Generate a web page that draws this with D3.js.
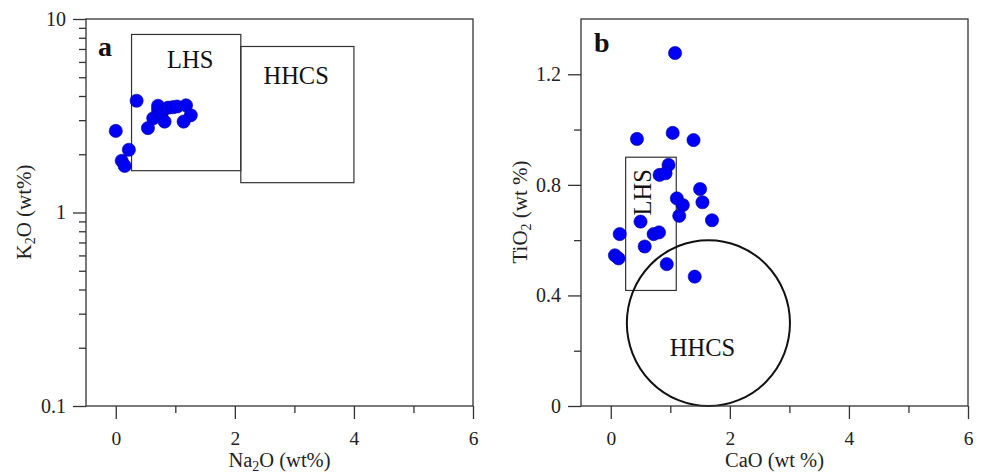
<!DOCTYPE html>
<html>
<head>
<meta charset="utf-8">
<script src="https://cdn.jsdelivr.net/npm/d3@7"></script>
<style>
  html, body { margin: 0; padding: 0; background: #fff; }
  svg { display: block; font-family: "Liberation Serif", "Times New Roman", serif; }
</style>
</head>
<body>
<svg id="chart" width="981" height="474"></svg>
<script>
// Sample compositions (wt%)
const na2O = [0.35, 0.00, 0.22, 0.10, 0.15, 0.54, 0.63, 0.71, 0.71, 0.77, 0.82, 0.88, 0.96, 1.03, 1.18, 1.26, 1.14];
const k2O  = [3.78, 2.64, 2.11, 1.85, 1.74, 2.73, 3.07, 3.40, 3.56, 3.25, 2.95, 3.48, 3.50, 3.53, 3.58, 3.18, 2.95];

const caO  = [1.08, 0.44, 1.04, 1.39, 0.97, 0.82, 0.92, 1.50, 1.11, 1.21, 1.54, 1.15, 1.70, 0.50, 0.15, 0.72, 0.81, 0.57, 0.07, 0.13, 0.94, 1.41];
const tiO2 = [1.277, 0.966, 0.988, 0.962, 0.872, 0.836, 0.842, 0.785, 0.751, 0.727, 0.737, 0.688, 0.672, 0.667, 0.622, 0.622, 0.628, 0.577, 0.545, 0.534, 0.513, 0.468];

// Reference fields [xmin, xmax, ymin, ymax] in data units
const lhsNaK  = [0.265, 2.1, 1.645, 8.32];
const hhcsNaK = [2.1, 4.0, 1.426, 7.21];
const lhsCaTi = [0.25, 1.1, 0.418, 0.90];
// HHCS field in CaO–TiO2 space: centre and half-widths
const hhcsCaTi = { cx: 1.64, cy: 0.30, rx: 1.37, ry: 0.30 };

// Axis ticks
const xMajor = [0, 2, 4, 6];
const xMinor = [1, 3, 5];
const kMajor = [0.1, 1, 10];
const kMinor = [0.2,0.3,0.4,0.5,0.6,0.7,0.8,0.9,2,3,4,5,6,7,8,9];
const tMajor = [0, 0.4, 0.8, 1.2];
const tMinor = [0.2, 0.6, 1.0];

const svg = d3.select("#chart");
const axisColor = "#333";
const plotTop = 19, plotBottom = 406;

function frame(g, x) {
  const [x0, x1] = x.range();
  g.append("rect")
    .attr("x", x0).attr("y", plotTop)
    .attr("width", x1 - x0).attr("height", plotBottom - plotTop)
    .attr("fill", "none").attr("stroke", axisColor).attr("stroke-width", 1.3);
}

function addLabel(t, parts) {
  parts.forEach(p => {
    const s = t.append("tspan").text(p.t);
    if (p.sub) s.attr("baseline-shift", "-4").attr("font-size", 14);
  });
}

function xAxis(g, x, labelParts) {
  const ax = g.append("g").attr("transform", `translate(0,${plotBottom})`);
  ax.call(d3.axisBottom(x).tickValues(xMajor).tickSize(13).tickPadding(12).tickFormat(d3.format("d")));
  ax.append("g").call(d3.axisBottom(x).tickValues(xMinor).tickSize(7).tickFormat(""));
  ax.selectAll(".domain").remove();
  ax.selectAll("line").attr("stroke", axisColor).attr("stroke-width", 1.3);
  ax.selectAll("text").attr("font-size", 19.5).attr("fill", "#222")
    .attr("font-family", "Liberation Serif");
  const [x0, x1] = x.range();
  const t = g.append("text")
    .attr("x", (x0 + x1) / 2).attr("y", 467)
    .attr("text-anchor", "middle").attr("font-size", 20.5).attr("fill", "#222");
  addLabel(t, labelParts);
}

function yLabel(g, xPos, labelParts) {
  const t = g.append("text")
    .attr("transform", `translate(${xPos},212) rotate(-90)`)
    .attr("text-anchor", "middle").attr("font-size", 21).attr("fill", "#222");
  addLabel(t, labelParts);
}

function dots(g, x, y, xs, ys) {
  g.append("g").selectAll("circle")
    .data(xs.map((v, i) => [v, ys[i]]))
    .join("circle")
    .attr("cx", d => x(d[0])).attr("cy", d => y(d[1]))
    .attr("r", 6.6)
    .attr("fill", "#0000f4")
    .attr("stroke", "#00009a").attr("stroke-width", 0.6);
}

// ---------- Panel a: Na2O vs K2O (log) ----------
{
  const x = d3.scaleLinear().domain([-0.5, 6]).range([86, 473]);
  const y = d3.scaleLog().domain([0.1, 10]).range([plotBottom, plotTop]);
  const g = svg.append("g");

  [lhsNaK, hhcsNaK].forEach(b => {
    g.append("rect")
      .attr("x", x(b[0])).attr("y", y(b[3]))
      .attr("width", x(b[1]) - x(b[0])).attr("height", y(b[2]) - y(b[3]))
      .attr("fill", "none").attr("stroke", axisColor).attr("stroke-width", 1.2);
  });
  g.append("text").attr("x", x(1.25)).attr("y", y(5.6)).attr("text-anchor", "middle")
    .attr("font-size", 24.5).attr("fill", "#111").text("LHS");
  g.append("text").attr("x", x(3.03)).attr("y", y(4.6)).attr("text-anchor", "middle")
    .attr("font-size", 24.5).attr("fill", "#111").text("HHCS");

  dots(g, x, y, na2O, k2O);
  frame(g, x);

  const ay = g.append("g").attr("transform", "translate(86,0)");
  ay.call(d3.axisLeft(y).tickValues(kMajor).tickSize(13).tickPadding(7).tickFormat(d => d < 1 ? "0.1" : String(d)));
  ay.append("g").call(d3.axisLeft(y).tickValues(kMinor).tickSize(7).tickFormat(""));
  ay.selectAll(".domain").remove();
  ay.selectAll("line").attr("stroke", axisColor).attr("stroke-width", 1.3);
  ay.selectAll("text").attr("font-size", 20).attr("fill", "#222").attr("font-family", "Liberation Serif");

  xAxis(g, x, [{t: "Na"}, {t: "2", sub: true}, {t: "O (wt%)"}]);
  yLabel(g, 31, [{t: "K"}, {t: "2", sub: true}, {t: "O (wt%)"}]);

  g.append("text").attr("x", 98).attr("y", 56).attr("font-size", 28)
    .attr("font-weight", "bold").attr("fill", "#111").text("a");
}

// ---------- Panel b: CaO vs TiO2 ----------
{
  const x = d3.scaleLinear().domain([-0.5, 6]).range([581, 968]);
  const y = d3.scaleLinear().domain([0, 1.4]).range([plotBottom, plotTop]);
  const g = svg.append("g");

  g.append("rect")
    .attr("x", x(lhsCaTi[0])).attr("y", y(lhsCaTi[3]))
    .attr("width", x(lhsCaTi[1]) - x(lhsCaTi[0])).attr("height", y(lhsCaTi[2]) - y(lhsCaTi[3]))
    .attr("fill", "none").attr("stroke", axisColor).attr("stroke-width", 1.2);

  const e = hhcsCaTi;
  g.append("ellipse")
    .attr("cx", x(e.cx)).attr("cy", y(e.cy))
    .attr("rx", x(e.cx + e.rx) - x(e.cx)).attr("ry", y(e.cy - e.ry) - y(e.cy))
    .attr("fill", "none").attr("stroke", "#111").attr("stroke-width", 2);

  g.append("text")
    .attr("transform", `translate(${x(0.68)},${y(0.773)}) rotate(-90)`)
    .attr("text-anchor", "middle").attr("font-size", 24.5).attr("fill", "#111").text("LHS");
  g.append("text").attr("x", x(1.54)).attr("y", y(0.18)).attr("text-anchor", "middle")
    .attr("font-size", 24.5).attr("fill", "#111").text("HHCS");

  dots(g, x, y, caO, tiO2);
  frame(g, x);

  const ay = g.append("g").attr("transform", "translate(581,0)");
  ay.call(d3.axisLeft(y).tickValues(tMajor).tickSize(13).tickPadding(7).tickFormat(d => d === 0 ? "0" : d3.format(".1f")(d)));
  ay.append("g").call(d3.axisLeft(y).tickValues(tMinor).tickSize(7).tickFormat(""));
  ay.selectAll(".domain").remove();
  ay.selectAll("line").attr("stroke", axisColor).attr("stroke-width", 1.3);
  ay.selectAll("text").attr("font-size", 20).attr("fill", "#222").attr("font-family", "Liberation Serif");

  xAxis(g, x, [{t: "CaO (wt %)"}]);
  yLabel(g, 527, [{t: "TiO"}, {t: "2", sub: true}, {t: " (wt %)"}]);

  g.append("text").attr("x", 594).attr("y", 52).attr("font-size", 28)
    .attr("font-weight", "bold").attr("fill", "#111").text("b");
}
</script>
</body>
</html>
